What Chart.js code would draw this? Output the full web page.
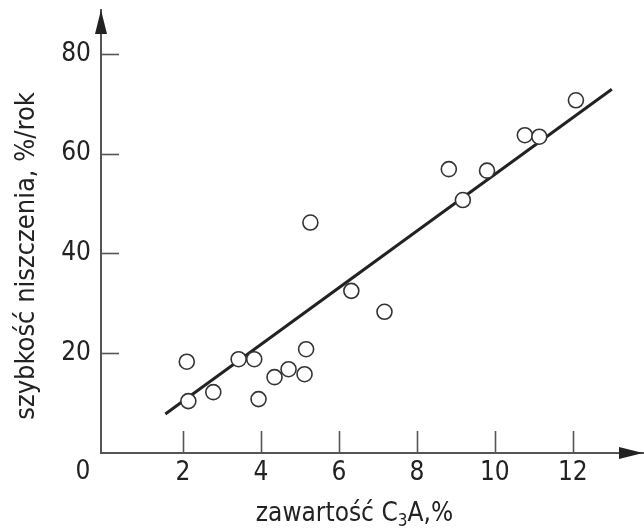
<!DOCTYPE html>
<html>
<head>
<meta charset="utf-8">
<script src="https://cdn.jsdelivr.net/npm/chart.js@4"></script>
<style>
  html, body { margin: 0; padding: 0; background: #fff; }
  #wrap { width: 644px; height: 531px; }
</style>
</head>
<body>
<div id="wrap"><canvas id="c3aChart" width="644" height="531"></canvas></div>
<script>
const c3a = [2.1, 2.14, 2.78, 3.43, 3.83, 3.94, 4.35, 4.71, 5.12, 5.16, 5.27, 6.32, 7.17, 8.82, 9.18, 9.8, 10.77, 11.14, 12.08];
const rate = [18.3, 10.4, 12.2, 18.8, 18.8, 10.8, 15.2, 16.8, 15.8, 20.8, 46.2, 32.5, 28.3, 56.9, 50.7, 56.6, 63.7, 63.4, 70.7];
const fitX = [1.55, 13.0];
const fitY = [7.8, 72.9];
const xTicks = [2, 4, 6, 8, 10, 12];
const yTicks = [20, 40, 60, 80];
const yTitle = 'szybkość niszczenia, %/rok';
const xTitle = ['zawartość C', '3', 'A,%']; // środek to indeks dolny

const FONT = '"Liberation Sans Narrow", "DejaVu Sans Condensed", "Roboto", sans-serif';
const INK = '#222';
const AXIS = '#555';

// kreski podziałki do środka + strzałki + wspólne "0" + opisy osi
const axisDecor = {
    id: 'axisDecor',
    afterDraw(chart) {
        const { ctx, chartArea, scales } = chart;
        const { x, y } = scales;
        ctx.save();
        ctx.strokeStyle = AXIS;
        ctx.lineWidth = 1.6;
        xTicks.forEach(v => {
            const px = Math.round(x.getPixelForValue(v)) + 0.5;
            ctx.beginPath();
            ctx.moveTo(px, chartArea.bottom);
            ctx.lineTo(px, chartArea.bottom - 22);
            ctx.stroke();
        });
        yTicks.forEach(v => {
            const py = Math.round(y.getPixelForValue(v)) + 0.5;
            ctx.beginPath();
            ctx.moveTo(chartArea.left, py);
            ctx.lineTo(chartArea.left + 18, py);
            ctx.stroke();
        });

        // strzałki
        ctx.fillStyle = '#222';
        const ax = chartArea.left;
        ctx.beginPath();
        ctx.moveTo(ax, chartArea.top);
        ctx.lineTo(ax - 6, chartArea.top + 24);
        ctx.lineTo(ax + 6, chartArea.top + 24);
        ctx.closePath();
        ctx.fill();
        const ay = chartArea.bottom;
        ctx.beginPath();
        ctx.moveTo(chartArea.right, ay);
        ctx.lineTo(chartArea.right - 24, ay - 6);
        ctx.lineTo(chartArea.right - 24, ay + 6);
        ctx.closePath();
        ctx.fill();

        // 0 w początku układu
        ctx.fillStyle = INK;
        ctx.font = '26px ' + FONT;
        ctx.textAlign = 'center';
        ctx.textBaseline = 'middle';
        ctx.fillText('0', chartArea.left - 18, chartArea.bottom + 19);

        // opis osi X z indeksem dolnym
        const big = '26px ' + FONT, small = '17px ' + FONT;
        ctx.textAlign = 'left';
        ctx.textBaseline = 'alphabetic';
        ctx.font = big;
        const w0 = ctx.measureText(xTitle[0]).width;
        const w2 = ctx.measureText(xTitle[2]).width;
        ctx.font = small;
        const w1 = ctx.measureText(xTitle[1]).width;
        const total = w0 + w1 + w2;
        let tx = x.getPixelForValue(6.4) - total / 2;
        const base = 521;
        ctx.font = big;
        ctx.fillText(xTitle[0], tx, base);
        tx += w0;
        ctx.font = small;
        ctx.fillText(xTitle[1], tx, base + 5);
        tx += w1;
        ctx.font = big;
        ctx.fillText(xTitle[2], tx, base);

        // opis osi Y (przesunięty w dół jak w oryginale)
        ctx.font = '27px ' + FONT;
        ctx.textAlign = 'center';
        ctx.textBaseline = 'middle';
        ctx.translate(27, y.getPixelForValue(39.5));
        ctx.rotate(-Math.PI / 2);
        ctx.fillText(yTitle, 0, 0);
        ctx.restore();
    }
};

new Chart(document.getElementById('c3aChart'), {
    type: 'scatter',
    data: {
        datasets: [
            {
                label: 'pomiary',
                data: c3a.map((v, i) => ({ x: v, y: rate[i] })),
                pointRadius: 7.5,
                pointHoverRadius: 7.5,
                pointBorderWidth: 1.6,
                pointBorderColor: '#333',
                pointBackgroundColor: '#fff',
            },
            {
                type: 'line',
                label: 'regresja',
                data: fitX.map((v, i) => ({ x: v, y: fitY[i] })),
                borderColor: '#222',
                borderWidth: 3,
                pointRadius: 0,
                fill: false,
            },
        ],
    },
    plugins: [axisDecor],
    options: {
        responsive: false,
        animation: false,
        layout: { autoPadding: false, padding: { left: 0, right: 1, top: 10, bottom: 0 } },
        plugins: { legend: { display: false }, tooltip: { enabled: false } },
        scales: {
            x: {
                type: 'linear',
                min: -0.1,
                max: 13.8,
                afterBuildTicks: s => { s.ticks = xTicks.map(v => ({ value: v })); },
                afterFit: s => { s.height = 78; s.paddingLeft = 0; s.paddingRight = 0; },
                grid: { display: false, drawTicks: false },
                border: { color: AXIS, width: 2 },
                ticks: { color: INK, font: { family: FONT, size: 26 }, padding: 5, maxRotation: 0 },
            },
            y: {
                min: 0,
                max: 88.8,
                afterBuildTicks: s => { s.ticks = yTicks.map(v => ({ value: v })); },
                afterFit: s => { s.width = 101; s.paddingTop = 0; s.paddingBottom = 0; },
                grid: { display: false, drawTicks: false },
                border: { color: AXIS, width: 2 },
                ticks: { color: INK, font: { family: FONT, size: 26 }, padding: 10 },
            },
        },
    },
});
</script>
</body>
</html>
